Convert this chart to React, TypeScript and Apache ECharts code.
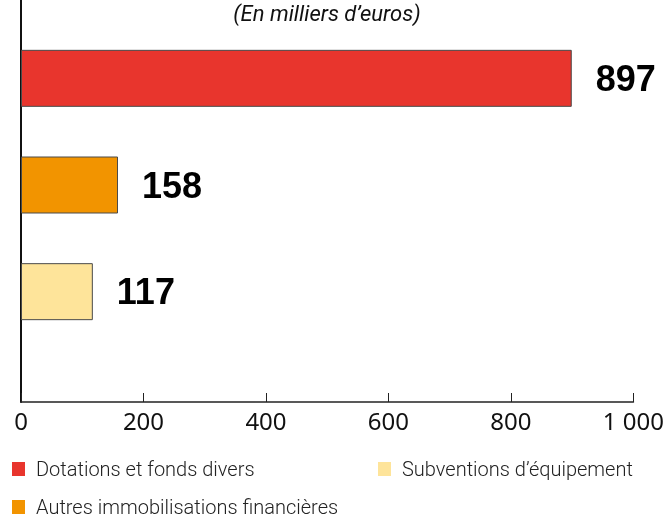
import React, { useEffect, useRef } from "react";
import * as echarts from "echarts";

const categories = ["Dotations et fonds divers", "Autres immobilisations financières", "Subventions d’équipement"];
const values = [897, 158, 117];
const colors = ["#E8352D", "#F29400", "#FEE49A"];
const titleText = "(En milliers d’euros)";

export default function App() {
  const ref = useRef<HTMLDivElement>(null);
  useEffect(() => {
    if (!ref.current) return;
    const chart = echarts.init(ref.current, undefined, { renderer: "svg" });
    const series: any[] = categories.map((name, i) => ({
      type: "bar",
      name,
      stack: "s",
      xAxisIndex: 0,
      yAxisIndex: 0,
      barWidth: 57,
      itemStyle: { color: colors[i], borderColor: "#4a4a4a", borderWidth: 1 },
      data: categories.map((_, j) => (j === i ? values[i] : null)),
      label: {
        show: true,
        position: "right",
        distance: 24,
        color: "#000",
        fontFamily: "'Liberation Sans', Arial, sans-serif",
        fontWeight: "bold",
        fontSize: 36,
      },
    }));
    series.push({ type: "scatter", xAxisIndex: 1, yAxisIndex: 1, data: [], silent: true });
    const legendText = {
      fontFamily: "Roboto, sans-serif",
      fontWeight: 300,
      fontSize: 20,
      lineHeight: 22,
      color: "#222",
      padding: [0, 0, 0, 6],
    };
    const legendBase = {
      orient: "horizontal",
      icon: "rect",
      itemWidth: 13,
      itemHeight: 14,
      padding: 0,
      selectedMode: false,
      itemStyle: { borderWidth: 0 },
      textStyle: legendText,
    };
    chart.setOption({
      animation: false,
      graphic: [
        {
          type: "text",
          x: 327,
          y: 2,
          style: {
            text: titleText,
            align: "center",
            verticalAlign: "top",
            fontFamily: "Roboto, sans-serif",
            fontStyle: "italic",
            fontSize: 22,
            fill: "#111",
          },
        },
      ],
      legend: [
        { ...legendBase, data: [categories[0]], left: 12, top: 458 },
        { ...legendBase, data: [categories[1]], left: 12, top: 496 },
        { ...legendBase, data: [categories[2]], left: 378, top: 458 },
      ],
      grid: [
        { left: 21, right: 32, top: 25, height: 320 },
        { left: 21, right: 32, top: 0, height: 402 },
      ],
      xAxis: [
        { type: "value", gridIndex: 0, min: 0, max: 1000, show: false },
        {
          type: "value",
          gridIndex: 1,
          min: 0,
          max: 1000,
          interval: 200,
          axisLine: { show: true, lineStyle: { color: "#222", width: 1.5 } },
          axisTick: { show: true, inside: true, length: 9, lineStyle: { color: "#222", width: 1 } },
          splitLine: { show: false },
          axisLabel: {
            fontFamily: "'Noto Sans', sans-serif",
            fontSize: 24,
            color: "#111",
            margin: 6,
            formatter: (v: number) => (v >= 1000 ? String(v).replace(/\B(?=(\d{3})+(?!\d))/g, " ") : String(v)),
          },
        },
      ],
      yAxis: [
        { type: "category", gridIndex: 0, inverse: true, data: categories, show: false },
        {
          type: "value",
          gridIndex: 1,
          min: 0,
          max: 1,
          axisLine: { show: true, lineStyle: { color: "#111", width: 2 } },
          axisTick: { show: false },
          axisLabel: { show: false },
          splitLine: { show: false },
        },
      ],
      series,
    });
    return () => chart.dispose();
  }, []);
  return <div ref={ref} style={{ position: "fixed", left: 0, top: 0, width: 667, height: 518 }} />;
}
